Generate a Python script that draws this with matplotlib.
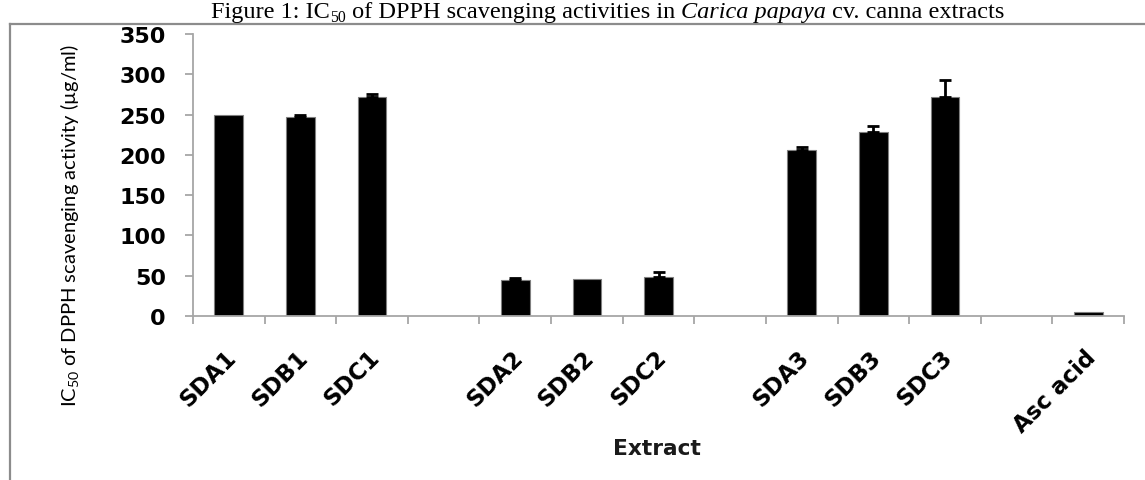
import matplotlib
matplotlib.use('Agg')
import matplotlib.pyplot as plt
import numpy as np
from matplotlib.transforms import ScaledTranslation, IdentityTransform
from matplotlib.lines import Line2D

# ---------------- data ----------------
categories = ['SDA1', 'SDB1', 'SDC1', '', 'SDA2', 'SDB2', 'SDC2', '',
              'SDA3', 'SDB3', 'SDC3', '', 'Asc acid']
values = [250, 247, 272, None, 45, 46, 48, None, 206, 228, 272, None, 4.5]
errors = [0, 2, 3, 0, 2, 0, 6, 0, 4, 8, 21, 0, 0]
yticks = [0, 50, 100, 150, 200, 250, 300, 350]
ylabel_text = 'IC$_{\\mathregular{50}}$ of DPPH scavenging activity (\u00b5g/ml)'
xlabel_text = 'Extract'
title_parts = [('Figure 1: IC', 'normal', False),
               ('50', 'normal', True),
               (' of DPPH scavenging activities in ', 'normal', False),
               ('Carica papaya', 'italic', False),
               (' cv. canna extracts', 'normal', False)]

# ---------------- figure ----------------
W, H = 1145, 481
fig = plt.figure(figsize=(W / 100, H / 100), dpi=100)
fig.patch.set_facecolor('white')


def fx(px):
    return px / W


def fy(py):
    return 1 - py / H


ax = fig.add_axes([fx(193), fy(317), fx(1124) - fx(193), fy(35) - fy(317)])

x = np.arange(len(categories))
bar_idx = [i for i, v in enumerate(values) if v is not None]
bar_vals = [values[i] for i in bar_idx]
ax.bar(x[bar_idx], bar_vals, width=0.4, color='black',
       edgecolor='#7f7f7f', linewidth=0.8, zorder=2)

err_idx = [i for i in bar_idx if errors[i] > 0]
ax.errorbar(x[err_idx], [values[i] for i in err_idx],
            yerr=[np.zeros(len(err_idx)), [errors[i] for i in err_idx]],
            fmt='none', ecolor='black', elinewidth=2, capsize=4.5,
            capthick=2, zorder=3)

ax.set_xlim(-0.5, len(categories) - 0.5)
ax.set_ylim(0, 350)
ax.set_yticks(yticks)
ax.set_yticklabels([str(v) for v in yticks], fontfamily='DejaVu Sans',
                   fontweight='bold', fontsize=16)

for s in ['top', 'right']:
    ax.spines[s].set_visible(False)
for s in ['left', 'bottom']:
    ax.spines[s].set_color('#a6a6a6')
    ax.spines[s].set_linewidth(1.3)

ax.tick_params(axis='y', direction='out', length=5.5, width=1.3,
               color='#a6a6a6', pad=14)
# boundary ticks (major), category labels on minor ticks
ax.set_xticks(np.arange(-0.5, len(categories), 1.0))
ax.set_xticklabels([])
ax.set_xticks(x, minor=True)
ax.set_xticklabels(categories, minor=True, rotation=45, ha='right',
                   va='center', rotation_mode='anchor',
                   fontfamily='DejaVu Sans', fontweight='bold', fontsize=16.5)
ax.tick_params(axis='x', which='major', direction='out', length=5.5,
               width=1.3, color='#a6a6a6')
ax.tick_params(axis='x', which='minor', length=0, pad=27)
offset = ScaledTranslation(4 / 100, 0, fig.dpi_scale_trans)
for lab in ax.get_xticklabels(minor=True):
    lab.set_transform(lab.get_transform() + offset)

renderer = fig.canvas.get_renderer()


def fit_text(t, target, horizontal=True):
    bb = t.get_window_extent(renderer)
    cur = bb.width if horizontal else bb.height
    t.set_fontsize(t.get_fontsize() * target / cur)


# y label
yl = fig.text(fx(70), fy(226), ylabel_text, rotation=90, ha='center',
              va='center', fontfamily='Lato', fontsize=13, color='black')
fit_text(yl, 363, horizontal=False)

# x label
xl = fig.text(fx(657), fy(449), xlabel_text, ha='center', va='center',
              fontfamily='DejaVu Sans', fontweight='bold', fontsize=12,
              color='#1a1a1a')
fit_text(xl, 88)

# frame lines
frame_y = 25
fig.add_artist(Line2D([fx(10), 1], [fy(frame_y), fy(frame_y)],
                      transform=fig.transFigure, color='#8c8c8c', lw=1.6))
fig.add_artist(Line2D([fx(10), fx(10)], [0, fy(frame_y)],
                      transform=fig.transFigure, color='#8c8c8c', lw=1.6))


# title, built from pieces
def layout_title(size, x0, y0, draw):
    xpos = x0
    texts = []
    for txt, style, sub in title_parts:
        fs = size * 0.65 if sub else size
        yy = y0 - (size * 0.18 * 100 / 72 if sub else 0)
        t = fig.text(xpos, yy, txt, transform=IdentityTransform(),
                     fontfamily='Liberation Serif', fontstyle=style,
                     fontsize=fs, ha='left', va='baseline', color='black')
        w = t.get_window_extent(renderer).width
        xpos += w
        texts.append(t)
    if not draw:
        for t in texts:
            t.remove()
    return xpos - x0


size = 17.5
wid = layout_title(size, 0, 0, False)
layout_title(size, 608 - wid / 2, H - 18, True)

fig.savefig('out.png', dpi=100)
